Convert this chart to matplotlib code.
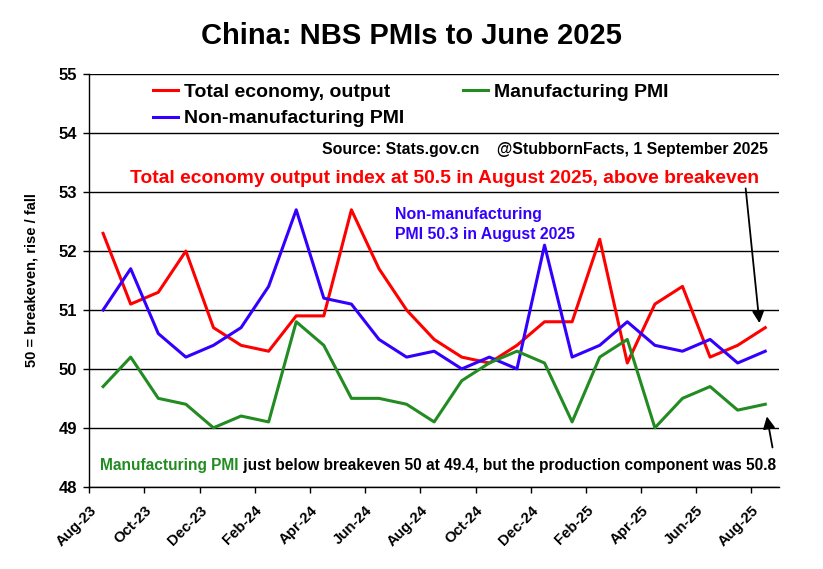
import matplotlib
matplotlib.use("Agg")
import matplotlib.pyplot as plt

plt.rcParams['font.family'] = ['Liberation Sans', 'DejaVu Sans']
plt.rcParams['font.weight'] = 'bold'

tick_labels = ["Aug-23", "Oct-23", "Dec-23", "Feb-24", "Apr-24", "Jun-24", "Aug-24",
               "Oct-24", "Dec-24", "Feb-25", "Apr-25", "Jun-25", "Aug-25"]

total_output = [52.3, 51.1, 51.3, 52.0, 50.7, 50.4, 50.3, 50.9, 50.9, 52.7, 51.7, 51.0, 50.5,
                50.2, 50.1, 50.4, 50.8, 50.8, 52.2, 50.1, 51.1, 51.4, 50.2, 50.4, 50.7]
manufacturing = [49.7, 50.2, 49.5, 49.4, 49.0, 49.2, 49.1, 50.8, 50.4, 49.5, 49.5, 49.4, 49.1,
                 49.8, 50.1, 50.3, 50.1, 49.1, 50.2, 50.5, 49.0, 49.5, 49.7, 49.3, 49.4]
non_manufacturing = [51.0, 51.7, 50.6, 50.2, 50.4, 50.7, 51.4, 52.7, 51.2, 51.1, 50.5, 50.2, 50.3,
                     50.0, 50.2, 50.0, 52.1, 50.2, 50.4, 50.8, 50.4, 50.3, 50.5, 50.1, 50.3]

RED = '#ff0000'
BLUE = '#3300ff'
GREEN = '#228b22'

fig = plt.figure(figsize=(8.23, 5.69), dpi=100)
ax = fig.add_axes([0.1085, 0.1446, 0.8381, 0.7248])

x = [i + 0.5 for i in range(len(total_output))]
l1, = ax.plot(x, total_output, color=RED, lw=2.2, label="Total economy, output")
l2, = ax.plot(x, non_manufacturing, color=BLUE, lw=2.2, label="Non-manufacturing PMI")
l3, = ax.plot(x, manufacturing, color=GREEN, lw=2.2, label="Manufacturing PMI")

ax.set_xlim(0, 25)
ax.set_ylim(48, 55)
ax.set_yticks(range(48, 56))
ax.set_yticklabels([str(v) for v in range(48, 56)], fontsize=12, fontweight='bold')
ax.set_xticks(range(0, 25, 2))
ax.set_xticklabels(tick_labels, rotation=45, ha='right', rotation_mode='anchor',
                   fontsize=10.8, fontweight='bold')
ax.tick_params(axis='both', direction='out', length=4, width=1, color='black')
ax.tick_params(axis='y', pad=5)
ax.tick_params(axis='x', pad=8)
ax.yaxis.grid(True, color='black', lw=1)
ax.set_axisbelow(True)
for s in ['top', 'right']:
    ax.spines[s].set_visible(False)
for s in ['left', 'bottom']:
    ax.spines[s].set_color('black')
    ax.spines[s].set_linewidth(1)

ax.set_ylabel("50 = breakeven, rise / fall", fontsize=10.5, fontweight='bold', labelpad=14)

leg = ax.legend(handles=[l1, l2, l3], ncol=2, loc='upper left', bbox_to_anchor=(0.081, 0.998),
                frameon=False, fontsize=14, handlelength=1.3, handletextpad=0.3,
                columnspacing=3.0, labelspacing=0.48, borderaxespad=0)
for t in leg.get_texts():
    t.set_fontweight('bold')

fig.text(0.5, 0.922, "China: NBS PMIs to June 2025", ha='center', va='baseline',
         fontsize=21, fontweight='bold')

ax.text(24.59, 53.65, "Source: Stats.gov.cn    @StubbornFacts, 1 September 2025",
        ha='right', va='baseline', fontsize=11.4, fontweight='bold', color='black')
ax.text(24.26, 53.16, "Total economy output index at 50.5 in August 2025, above breakeven",
        ha='right', va='baseline', fontsize=13.9, fontweight='bold', color=RED)
ax.text(11.08, 52.54, "Non-manufacturing", ha='left', va='baseline', fontsize=11.4,
        fontweight='bold', color=BLUE)
ax.text(11.08, 52.20, "PMI 50.3 in August 2025", ha='left', va='baseline', fontsize=11.4,
        fontweight='bold', color=BLUE)

t1 = ax.text(0.39, 48.29, "Manufacturing PMI", ha='left', va='baseline', fontsize=11.2,
             fontweight='bold', color=GREEN)
ax.annotate(" just below breakeven 50 at 49.4, but the production component was 50.8",
            xy=(1, 0), xycoords=t1, ha='left', va='bottom', fontsize=11.2,
            fontweight='bold', color='black')

ax.annotate("", xy=(24.30, 50.73), xytext=(23.78, 53.11),
            arrowprops=dict(arrowstyle='-|>', color='black', lw=1.3, mutation_scale=18))
ax.annotate("", xy=(24.54, 49.24), xytext=(24.78, 48.62),
            arrowprops=dict(arrowstyle='-|>', color='black', lw=1.3, mutation_scale=18),
            annotation_clip=False)

fig.savefig("out.png", dpi=100)
